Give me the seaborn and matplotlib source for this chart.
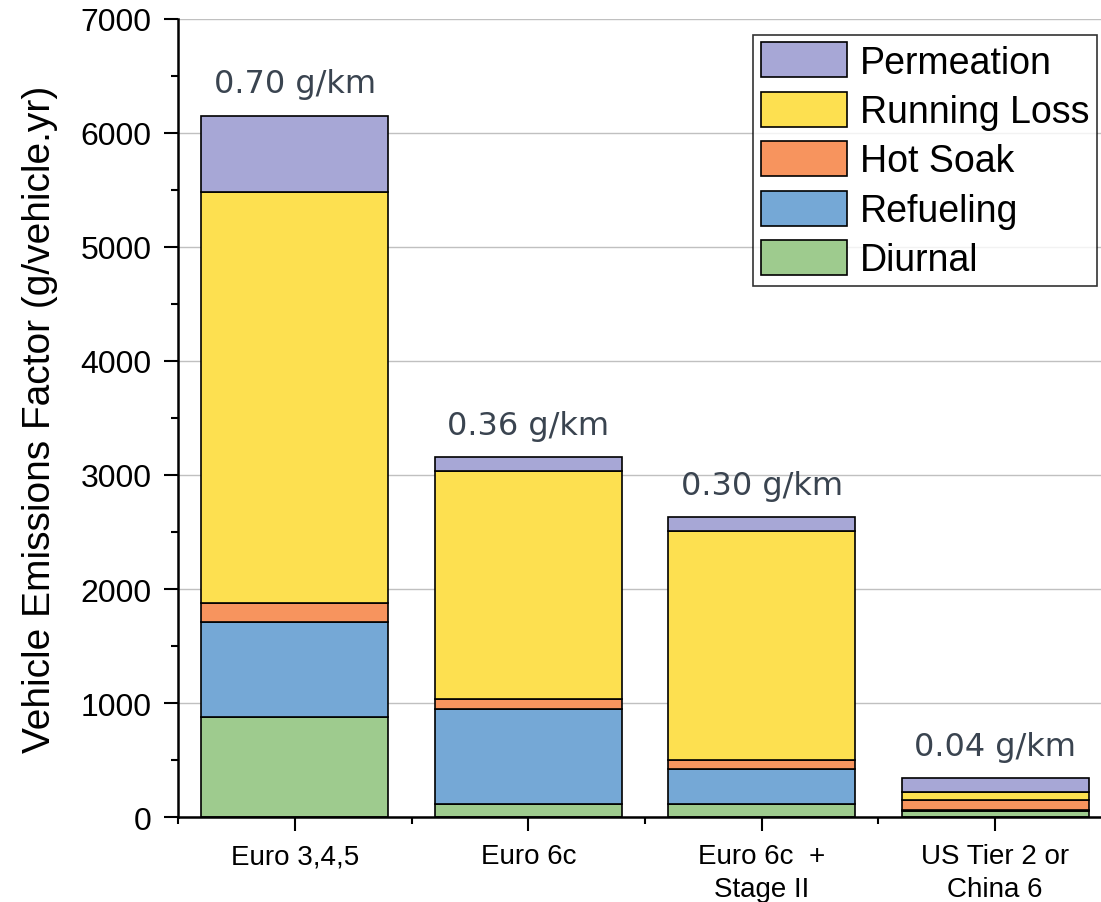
import pandas as pd
import seaborn as sns
import matplotlib.pyplot as plt
from matplotlib.patches import Patch
from matplotlib.ticker import MultipleLocator

# standards (x categories)
standards = ['Euro 3,4,5', 'Euro 6c', 'Euro 6c  +\nStage II', 'US Tier 2 or\nChina 6']

# emission components, g/vehicle.yr
diurnal = [880, 110, 110, 50]
refueling = [830, 835, 310, 8]
hot_soak = [165, 90, 80, 92]
running_loss = [3610, 2000, 2010, 68]
permeation = [665, 123, 122, 122]

g_per_km = ['0.70 g/km', '0.36 g/km', '0.30 g/km', '0.04 g/km']

components = ['Permeation', 'Running Loss', 'Hot Soak', 'Refueling', 'Diurnal']
colors = ['#a7a7d6', '#fde050', '#f7945e', '#75a8d6', '#9ecb8e']

values = {'Permeation': permeation, 'Running Loss': running_loss,
          'Hot Soak': hot_soak, 'Refueling': refueling, 'Diurnal': diurnal}

rows = []
for comp in components:
    for std, v in zip(standards, values[comp]):
        rows.append({'standard': std, 'component': comp, 'value': v})
df = pd.DataFrame(rows)
df['standard'] = pd.Categorical(df['standard'], categories=standards, ordered=True)

sns.set_style('white')
plt.rcParams['font.family'] = ['Liberation Sans', 'DejaVu Sans']
plt.rcParams['text.color'] = 'black'
plt.rcParams['axes.labelcolor'] = 'black'
plt.rcParams['xtick.color'] = 'black'
plt.rcParams['ytick.color'] = 'black'

fig = plt.figure(figsize=(11.01, 9.03), dpi=100)
ax = fig.add_axes([0.1617, 0.0941, 0.8383, 0.8838])

ax.yaxis.grid(True, color='#c0c0c0', linewidth=1.0, zorder=0)
ax.set_axisbelow(True)

sns.histplot(data=df, x='standard', hue='component', weights='value',
             hue_order=components, palette=colors, multiple='stack',
             discrete=True, shrink=0.8, alpha=1, edgecolor='black',
             linewidth=1.2, legend=False, ax=ax)

totals = [d + r + h + l + p for d, r, h, l, p in
          zip(diurnal, refueling, hot_soak, running_loss, permeation)]
for i, (t, lab) in enumerate(zip(totals, g_per_km)):
    ax.annotate(lab, xy=(i, t), xytext=(0, 23), textcoords='offset points',
                ha='center', va='center', fontsize=23, color='#3a4450',
                family='DejaVu Sans')

ax.set_xlim(-0.5, 3.453)
ax.set_ylim(0, 7000)
ax.yaxis.set_major_locator(MultipleLocator(1000))
ax.yaxis.set_minor_locator(MultipleLocator(500))
ax.set_xticks(range(len(standards)))
ax.set_xticklabels(standards, fontsize=20, linespacing=1.35)
ax.set_xticks([-0.5, 0.5, 1.5, 2.5], minor=True)
ax.tick_params(axis='y', which='major', direction='out', length=10, width=1.5,
               labelsize=23, left=True, pad=9)
ax.tick_params(axis='y', which='minor', direction='out', length=5, width=1.5, left=True)
ax.tick_params(axis='x', which='major', direction='out', length=10, width=1.5,
               bottom=True, pad=9)
ax.tick_params(axis='x', which='minor', direction='out', length=5, width=1.5, bottom=True)

ax.set_xlabel('')
ax.set_ylabel('Vehicle Emissions Factor (g/vehicle.yr)', fontsize=28, labelpad=16)

for side in ['top', 'right']:
    ax.spines[side].set_visible(False)
for side in ['left', 'bottom']:
    ax.spines[side].set_linewidth(1.8)
    ax.spines[side].set_color('black')

handles = [Patch(facecolor=c, edgecolor='black', linewidth=1.2) for c in colors]
leg = ax.legend(handles, components, loc='upper right', bbox_to_anchor=(0.996, 0.98),
                borderaxespad=0, fontsize=27, frameon=True, fancybox=False,
                edgecolor='black', handlelength=2.3, handleheight=1.05,
                labelspacing=0.3, handletextpad=0.35, borderpad=0.2)
leg.get_frame().set_linewidth(1.2)

fig.savefig('out.png', dpi=100)
